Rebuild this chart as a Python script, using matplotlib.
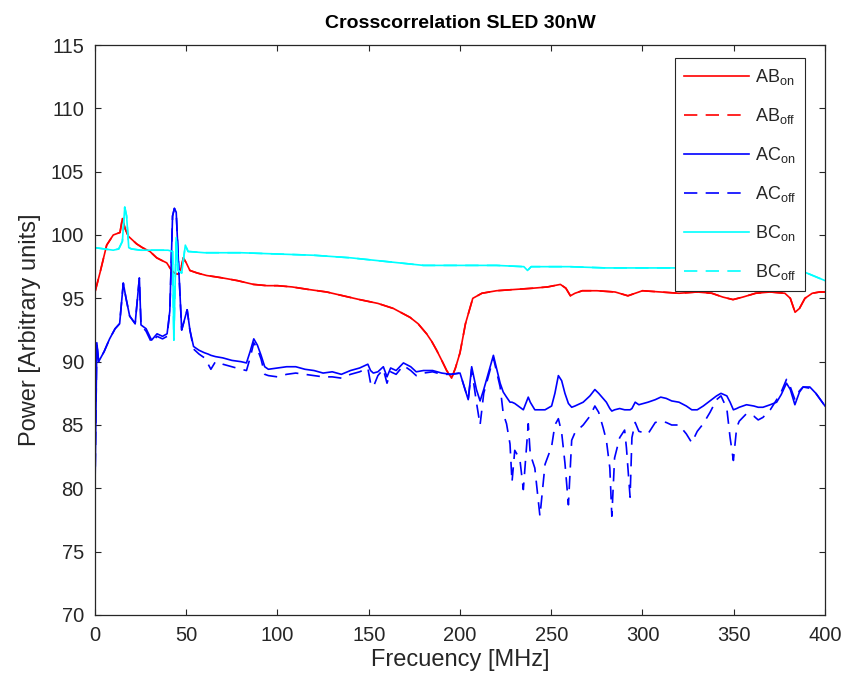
import matplotlib
matplotlib.use("Agg")
import matplotlib.pyplot as plt

plt.rcParams['font.family'] = ['Liberation Sans', 'DejaVu Sans']
plt.rcParams['mathtext.fontset'] = 'custom'
plt.rcParams['mathtext.rm'] = 'Liberation Sans'
plt.rcParams['mathtext.default'] = 'regular'

# ---- data ----
freq_ab = [0, 2.7, 6.4, 10, 13.7, 15, 16.5, 18.3, 22.8, 26, 30.1, 33.8, 36.5, 39.3, 42, 43.5,
           45.5, 47, 48.4, 50, 52, 56, 61.2, 66, 70.3, 78, 86.8, 94.2, 100, 108, 117, 127,
           136, 145, 155, 163.5, 172.6, 177, 181.7, 184.5, 187.2, 190, 192.7, 195.4, 197.5,
           200, 203, 207, 212, 220, 230, 240, 248, 255, 258, 260.5, 263, 267, 275, 285,
           292, 300, 310, 320, 330, 338, 344, 349.6, 355, 362, 370, 378, 381, 383.6, 386,
           389, 393, 397, 400]
ab_on = [95.5, 97.0, 99.2, 100.0, 100.2, 101.3, 100.5, 99.9, 99.3, 99.0, 98.7, 98.2, 98.0, 97.8,
         97.2, 97.0, 96.9, 97.3, 98.2, 97.8, 97.2, 97.0, 96.8, 96.7, 96.6, 96.4, 96.1, 96.0,
         96.0, 95.9, 95.7, 95.5, 95.2, 94.9, 94.6, 94.2, 93.5, 93.0, 92.2, 91.6, 90.9, 90.1,
         89.3, 88.7, 89.5, 90.7, 93.0, 95.0, 95.4, 95.6, 95.7, 95.8, 95.9, 96.1, 95.8, 95.2,
         95.4, 95.6, 95.6, 95.5, 95.2, 95.6, 95.5, 95.4, 95.5, 95.4, 95.1, 94.9, 95.1, 95.4,
         95.5, 95.4, 95.0, 93.9, 94.2, 95.0, 95.4, 95.5, 95.5]
ab_off = ab_on

freq_bc = [0, 5, 10, 13, 15, 16.3, 17.3, 18.5, 20, 25, 30, 35, 40, 42.5, 43.2, 44.5, 45.5,
           47.5, 49.5, 51, 60, 80, 100, 120, 140, 160, 180, 200, 220, 235, 237, 239, 260,
           280, 300, 320, 340, 360, 380, 390, 395, 400]
bc_on = [99.0, 98.9, 98.8, 98.9, 99.5, 102.2, 101.5, 99.0, 98.9, 98.8, 98.8, 98.8, 98.8, 98.7,
         91.7, 99.8, 97.2, 97.0, 99.2, 98.7, 98.6, 98.6, 98.5, 98.4, 98.2, 97.9, 97.6, 97.6,
         97.6, 97.5, 97.2, 97.5, 97.5, 97.4, 97.4, 97.4, 97.4, 97.4, 97.3, 97.0, 96.7, 96.4]
bc_off = bc_on

freq_ac = [0, 1, 2, 5, 8, 11, 13.5, 15.5, 17, 19, 22, 24.3, 25.2, 28, 31, 34, 37, 39.5, 41,
           42.5, 43.5, 44.5, 46, 47.5, 50.5, 52, 54, 57, 60, 62, 63.5, 66, 70, 75, 80, 83, 85,
           87, 89, 91, 93, 95, 100, 105, 110, 115, 120, 125, 130, 135, 140, 145, 149.5, 151,
           152.5, 155, 158, 160, 162, 165, 169, 173, 176, 180, 185, 190, 195, 200, 204.5,
           206.4, 209, 211, 213, 218.3, 222, 223.7, 225.5, 227.4, 228.5, 230, 232.8, 234.7,
           237.4, 238.5, 241, 243.8, 246.6, 250.2, 252, 253.9, 255.7, 257.5, 259.4, 261.2,
           263, 267.5, 271.2, 273.9, 276, 278.4, 280.2, 282.1, 283.2, 284.7, 287.5, 290.2,
           291.2, 293.2, 294.2, 296, 298, 303, 307, 310, 313, 316, 320, 324, 327, 330, 333.3,
           337, 340.6, 343, 346.2, 348, 349.8, 351.6, 353, 357, 361, 363.4, 366, 368, 370,
           373.5, 376, 378.9, 381, 383.5, 386, 388, 391.7, 395, 399, 400]
ac_on = [80.0, 91.5, 90.0, 90.8, 91.8, 92.6, 93.0, 96.2, 95.0, 93.6, 93.0, 96.6, 92.9, 92.6,
         91.7, 92.2, 92.0, 92.2, 94.0, 101.5, 102.1, 101.8, 97.0, 92.5, 94.1, 92.5, 91.2, 90.9,
         90.7, 90.6, 90.5, 90.4, 90.3, 90.1, 90.0, 89.9, 90.8, 91.8, 91.3, 90.5, 89.6, 89.4,
         89.5, 89.6, 89.6, 89.4, 89.3, 89.1, 89.2, 89.0, 89.3, 89.5, 89.8, 89.3, 89.1, 89.2,
         89.6, 88.8, 89.5, 89.3, 89.9, 89.6, 89.2, 89.3, 89.3, 89.1, 89.0, 89.1, 87.0, 89.6,
         87.8, 86.9, 87.8, 90.5, 88.3, 87.6, 87.2, 86.8, 86.8, 86.7, 86.4, 86.2, 87.2, 86.8,
         86.2, 86.2, 86.2, 86.5, 87.5, 88.9, 88.5, 87.5, 86.7, 86.4, 86.5, 86.8, 87.3, 87.8,
         87.5, 87.1, 86.8, 86.3, 86.1, 86.2, 86.3, 86.2, 86.2, 86.2, 86.3, 86.8, 86.6, 86.8,
         87.0, 87.2, 87.1, 86.9, 86.8, 86.5, 86.2, 86.2, 86.5, 86.9, 87.3, 87.5, 87.3, 86.8,
         86.2, 86.3, 86.4, 86.6, 86.5, 86.4, 86.4, 86.5, 86.6, 86.8, 87.4, 88.3, 87.8, 86.6,
         87.6, 88.0, 88.0, 87.5, 86.7, 86.5]
ac_off = [80.0, 91.5, 90.0, 90.8, 91.8, 92.6, 93.0, 96.2, 95.0, 93.6, 93.0, 96.6, 92.9, 92.4,
          91.5, 92.0, 91.8, 92.0, 94.0, 101.5, 102.1, 101.8, 97.0, 92.5, 94.1, 92.5, 91.0,
          90.6, 90.3, 89.8, 89.4, 90.0, 89.8, 89.6, 89.4, 89.3, 90.3, 91.5, 91.0, 90.2, 89.0,
          88.9, 88.8, 89.0, 89.1, 89.0, 88.9, 88.8, 88.8, 88.7, 89.0, 89.2, 89.5, 88.3, 88.0,
          88.9, 89.4, 88.3, 89.2, 89.0, 89.7, 89.3, 88.9, 89.1, 89.2, 89.0, 89.0, 89.1, 87.0,
          89.4, 86.8, 85.0, 87.5, 90.3, 88.0, 85.9, 85.1, 83.5, 80.5, 83.0, 82.3, 79.9, 85.1,
          82.7, 81.6, 77.8, 81.9, 83.3, 85.0, 85.5, 84.4, 82.0, 78.7, 83.8, 84.4, 85.0, 85.7,
          86.5, 86.0, 84.8, 83.8, 81.6, 77.8, 82.4, 84.0, 84.6, 83.2, 79.3, 84.0, 85.2, 84.5,
          84.3, 85.2, 85.3, 85.2, 85.0, 85.0, 84.3, 83.6, 84.5, 85.1, 86.0, 87.0, 87.3, 86.3,
          84.0, 82.2, 84.8, 85.3, 85.9, 85.7, 85.4, 85.6, 85.9, 86.2, 87.0, 87.6, 88.6, 88.0,
          87.0, 87.7, 88.0, 87.9, 87.5, 86.7, 86.5]

labels = ['AB$_{on}$', 'AB$_{off}$', 'AC$_{on}$', 'AC$_{off}$', 'BC$_{on}$', 'BC$_{off}$']
x_ticks = [0, 50, 100, 150, 200, 250, 300, 350, 400]
y_ticks = [70, 75, 80, 85, 90, 95, 100, 105, 110, 115]

# ---- plot ----
fig = plt.figure(figsize=(8.45, 6.92), dpi=100)
ax = fig.add_axes([95 / 845, 77 / 692, 730 / 845, 570 / 692])

lw = 1.2
dash = (0, (8, 5))
ax.plot(freq_ab, ab_on, color='#FF0000', lw=lw, label=labels[0])
ax.plot(freq_ab, ab_off, color='#FF0000', lw=lw, ls=dash, label=labels[1])
ax.plot(freq_ac, ac_on, color='#0000FF', lw=lw, label=labels[2])
ax.plot(freq_ac, ac_off, color='#0000FF', lw=lw, ls=dash, label=labels[3])
ax.plot(freq_bc, bc_on, color='#00FFFF', lw=lw, label=labels[4])
ax.plot(freq_bc, bc_off, color='#00FFFF', lw=lw, ls=dash, label=labels[5])

ax.set_xlim(0, 400)
ax.set_ylim(70, 115)
ax.set_xticks(x_ticks)
ax.set_yticks(y_ticks)
ax.tick_params(direction='in', top=True, right=True, length=4, width=0.8,
               labelsize=14.5, colors='#262626', pad=8)
for s in ax.spines.values():
    s.set_color('#262626')
    s.set_linewidth(0.9)

ax.set_xlabel('Frecuency [MHz]', fontsize=17, color='#262626', labelpad=3)
ax.set_ylabel('Power [Arbitrary units]', fontsize=17, color='#262626', labelpad=7)
ax.set_title('Crosscorrelation SLED 30nW', fontsize=14, fontweight='bold', color='black', pad=12)

leg = ax.legend(loc='upper right', bbox_to_anchor=(0.9726, 0.977), borderaxespad=0,
                fontsize=13, handlelength=3.6, labelspacing=1.05, handletextpad=0.3,
                borderpad=0.5, frameon=True, fancybox=False, framealpha=1,
                edgecolor='#262626')
leg.get_frame().set_linewidth(0.8)
for t in leg.get_texts():
    t.set_color('#262626')

fig.savefig('out.png', dpi=100)
